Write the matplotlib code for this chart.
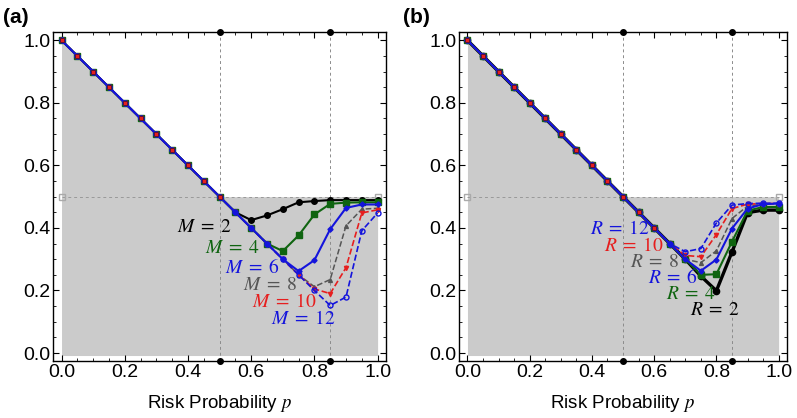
import matplotlib
matplotlib.use("Agg")
import matplotlib.pyplot as plt
from matplotlib.ticker import MultipleLocator

plt.rcParams['font.family'] = ['Liberation Sans', 'DejaVu Sans']
plt.rcParams['mathtext.fontset'] = 'stix'

# risk probability grid
p = [0.00, 0.05, 0.10, 0.15, 0.20, 0.25, 0.30, 0.35, 0.40, 0.45, 0.50,
     0.55, 0.60, 0.65, 0.70, 0.75, 0.80, 0.85, 0.90, 0.95, 1.00]
diag = [1.00, 0.95, 0.90, 0.85, 0.80, 0.75, 0.70, 0.65, 0.60, 0.55, 0.50]

# panel (a): tail values for p = 0.55 .. 1.00
M2 = diag + [0.450, 0.425, 0.440, 0.460, 0.482, 0.486, 0.489, 0.489, 0.489, 0.489]
M4 = diag + [0.450, 0.400, 0.350, 0.326, 0.376, 0.443, 0.477, 0.481, 0.482, 0.482]
M6 = diag + [0.450, 0.400, 0.350, 0.300, 0.262, 0.297, 0.396, 0.464, 0.475, 0.475]
M8 = diag + [0.450, 0.400, 0.350, 0.300, 0.250, 0.212, 0.235, 0.407, 0.460, 0.463]
M10 = diag + [0.450, 0.400, 0.350, 0.300, 0.250, 0.205, 0.190, 0.273, 0.448, 0.458]
M12 = diag + [0.450, 0.400, 0.350, 0.300, 0.250, 0.200, 0.152, 0.179, 0.391, 0.448]

# panel (b)
R2 = diag + [0.450, 0.400, 0.350, 0.300, 0.246, 0.199, 0.323, 0.449, 0.457, 0.457]
R4 = diag + [0.450, 0.400, 0.350, 0.300, 0.250, 0.252, 0.356, 0.455, 0.467, 0.467]
R6 = diag + [0.450, 0.400, 0.350, 0.300, 0.263, 0.299, 0.398, 0.462, 0.476, 0.478]
R8 = diag + [0.450, 0.400, 0.350, 0.300, 0.289, 0.327, 0.430, 0.470, 0.476, 0.478]
R10 = diag + [0.450, 0.400, 0.350, 0.312, 0.308, 0.379, 0.462, 0.476, 0.478, 0.478]
R12 = diag + [0.450, 0.400, 0.350, 0.324, 0.334, 0.416, 0.473, 0.478, 0.479, 0.479]

p_marks = [0.5, 0.85]
level = 0.5

GREEN = '#0f6410'
BLUE = '#1414dc'
GRAY = '#555555'
RED = '#e61e1e'

fig = plt.figure(figsize=(7.97, 4.18), dpi=100)
axa = fig.add_axes([0.0665, 0.136, 0.418, 0.787])
axb = fig.add_axes([0.576, 0.136, 0.4115, 0.787])


def setup(ax):
    # shaded region under max(1-p, 0.5)
    upper = [max(1 - x, level) for x in p]
    ax.fill_between(p, -0.008, upper, color='#cbcbcb', lw=0, zorder=0)
    for xm in p_marks:
        ax.axvline(xm, color='#8c8c8c', ls=(0, (3, 3)), lw=0.7, zorder=1)
        ax.plot([xm, xm], [-0.026, 1.026], 'o', color='black', ms=4,
                clip_on=False, zorder=10)
    ax.plot([p[0], p[-1]], [level, level], color='#999999', ls=(0, (3, 3)),
            lw=0.7, marker='s', ms=4, mfc='none', mec='#aaaaaa', zorder=1)
    ax.set_xlim(-0.027, 1.027)
    ax.set_ylim(-0.026, 1.026)
    ax.xaxis.set_major_locator(MultipleLocator(0.2))
    ax.yaxis.set_major_locator(MultipleLocator(0.2))
    ax.xaxis.set_minor_locator(MultipleLocator(0.05))
    ax.yaxis.set_minor_locator(MultipleLocator(0.05))
    ax.tick_params(which='both', direction='in', top=True, right=True,
                   labelsize=14, pad=2)
    ax.tick_params(which='major', length=4, width=0.8)
    ax.tick_params(which='minor', length=2, width=0.6)
    ax.xaxis.set_major_formatter(plt.FormatStrFormatter('%.1f'))
    ax.yaxis.set_major_formatter(plt.FormatStrFormatter('%.1f'))
    ax.set_xlabel('Risk Probability $p$', fontsize=13.5, labelpad=9)
    for s in ax.spines.values():
        s.set_linewidth(1.0)


# ---- panel (a)
setup(axa)
axa.plot(p, M2, '-o', color='black', lw=1.5, ms=4, zorder=3)
axa.plot(p, M4, '-s', color=GREEN, lw=1.5, ms=4, zorder=3)
axa.plot(p, M8, '--', color=GRAY, lw=1.1, marker='^', ms=2.8, zorder=3)
axa.plot(p, M10, '--', color=RED, lw=1.2, marker='v', ms=3, zorder=3)
axa.plot(p, M12, '--', color=BLUE, lw=1.2, marker='o', ms=3.6, mfc='none', zorder=3)
axa.plot(p, M6, '-', color=BLUE, lw=1.5, marker='D', ms=2.6, zorder=4)
axa.plot(p[:11], M10[:11], 's', color=RED, mec='#551111', mew=0.5, ms=3.4, zorder=5)

labs_a = [('$M\\;=\\;2$', 'black', 0.539, 0.403), ('$M\\;=\\;4$', GREEN, 0.628, 0.335),
          ('$M\\;=\\;6$', BLUE, 0.691, 0.272), ('$M\\;=\\;8$', GRAY, 0.745, 0.217),
          ('$M\\;=\\;10$', RED, 0.808, 0.163), ('$M\\;=\\;12$', BLUE, 0.865, 0.109)]
for t, c, x, y in labs_a:
    axa.text(x, y, t, color=c, fontsize=14, ha='right', va='center', zorder=6)

# ---- panel (b)
setup(axb)
axb.plot(p, R2, '-o', color='black', lw=2.4, ms=4.5, zorder=3)
axb.plot(p, R4, '-s', color=GREEN, lw=1.5, ms=4, zorder=3)
axb.plot(p, R8, '--', color=GRAY, lw=1.1, marker='^', ms=2.8, zorder=3)
axb.plot(p, R10, '--', color=RED, lw=1.2, marker='v', ms=3, zorder=3)
axb.plot(p, R12, '--', color=BLUE, lw=1.2, marker='o', ms=3.6, mfc='none', zorder=3)
axb.plot(p, R6, '-', color=BLUE, lw=1.5, marker='D', ms=2.6, zorder=4)
axb.plot(p[:13], R10[:13], 's', color=RED, mec='#551111', mew=0.5, ms=3.4, zorder=5)

labs_b = [('$R\\;=\\;12$', BLUE, 0.586, 0.398), ('$R\\;=\\;10$', RED, 0.633, 0.343),
          ('$R\\;=\\;8$', GRAY, 0.681, 0.291), ('$R\\;=\\;6$', BLUE, 0.741, 0.241),
          ('$R\\;=\\;4$', GREEN, 0.798, 0.188), ('$R\\;=\\;2$', 'black', 0.877, 0.135)]
for t, c, x, y in labs_b:
    axb.text(x, y, t, color=c, fontsize=14, ha='right', va='center', zorder=6)

fig.text(0.004, 0.958, '(a)', fontsize=15, fontweight='bold', va='center')
fig.text(0.506, 0.958, '(b)', fontsize=15, fontweight='bold', va='center')

fig.savefig('out.png', dpi=100)
